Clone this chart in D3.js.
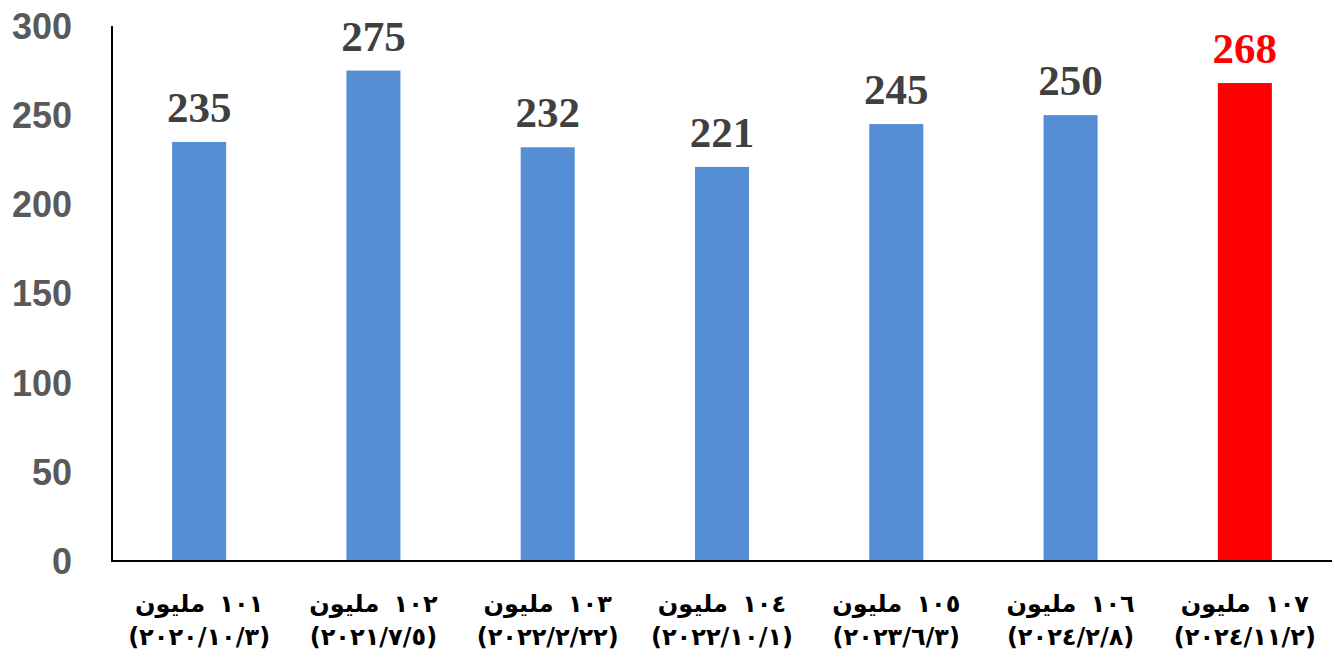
<!DOCTYPE html>
<html>
<head>
<meta charset="utf-8">
<script src="https://cdn.jsdelivr.net/npm/d3@7"></script>
<style>
  body { margin: 0; background: #fff; }
</style>
</head>
<body>
<div id="chart"></div>
<script>
// data
var counts = ["١٠١ مليون", "١٠٢ مليون", "١٠٣ مليون", "١٠٤ مليون", "١٠٥ مليون", "١٠٦ مليون", "١٠٧ مليون"];
var dates = ["(٢٠٢٠/١٠/٣)", "(٢٠٢١/٧/٥)", "(٢٠٢٢/٢/٢٢)", "(٢٠٢٢/١٠/١)", "(٢٠٢٣/٦/٣)", "(٢٠٢٤/٢/٨)", "(٢٠٢٤/١١/٢)"];
var values = [235, 275, 232, 221, 245, 250, 268];
var yTicks = [0, 50, 100, 150, 200, 250, 300];

var width = 1335, height = 657;
var margin = {top: 26, right: 3, bottom: 96, left: 112};

var svg = d3.select("#chart")
  .append("svg")
    .attr("width", width)
    .attr("height", height);

var x = d3.scaleBand()
    .domain(d3.range(values.length))
    .range([margin.left, width - margin.right])
    .paddingInner(0.69)
    .paddingOuter(0.345);

var y = d3.scaleLinear()
    .domain([0, 300])
    .range([height - margin.bottom, margin.top]);

// y tick labels (no tick marks)
svg.append("g")
  .selectAll("text")
  .data(yTicks)
  .enter()
  .append("text")
    .attr("x", 72)
    .attr("y", function(d){ return y(d); })
    .attr("dy", "0.36em")
    .attr("text-anchor", "end")
    .style("font-family", "'Liberation Sans', Arial, sans-serif")
    .style("font-weight", "bold")
    .style("font-size", "36px")
    .style("fill", "#595959")
    .text(function(d){ return d; });

// bars
svg.append("g")
  .selectAll("rect")
  .data(values)
  .enter()
  .append("rect")
    .attr("x", function(d, i){ return x(i); })
    .attr("y", function(d){ return y(d); })
    .attr("width", x.bandwidth())
    .attr("height", function(d){ return y(0) - y(d); })
    .style("fill", function(d, i){ return i == values.length - 1 ? "#ff0000" : "#558ed5"; });

// value labels
svg.append("g")
  .selectAll("text")
  .data(values)
  .enter()
  .append("text")
    .attr("x", function(d, i){ return x(i) + x.bandwidth() / 2; })
    .attr("y", function(d){ return y(d) - 20; })
    .attr("text-anchor", "middle")
    .style("font-family", "'Liberation Serif', 'Times New Roman', serif")
    .style("font-weight", "bold")
    .style("font-size", "43px")
    .style("fill", function(d, i){ return i == values.length - 1 ? "#ff0000" : "#404040"; })
    .text(function(d){ return d; });

// axis lines
svg.append("line")
    .attr("x1", margin.left).attr("x2", margin.left)
    .attr("y1", y(300)).attr("y2", y(0))
    .style("stroke", "#000").style("stroke-width", 2);
svg.append("line")
    .attr("x1", margin.left - 1).attr("x2", width - margin.right)
    .attr("y1", y(0)).attr("y2", y(0))
    .style("stroke", "#000").style("stroke-width", 2);

// category labels, two lines each
var cats = svg.append("g")
  .selectAll("g")
  .data(values)
  .enter()
  .append("g")
    .attr("transform", function(d, i){ return "translate(" + (x(i) + x.bandwidth() / 2) + ",0)"; })
    .style("font-family", "'DejaVu Sans', 'Noto Sans', sans-serif")
    .style("font-weight", "bold")
    .style("font-size", "24px")
    .style("fill", "#000");

cats.append("text")
    .attr("y", 612)
    .attr("text-anchor", "middle")
    .style("word-spacing", "6px")
    .text(function(d, i){ return counts[i]; });

cats.append("text")
    .attr("y", 645)
    .attr("text-anchor", "middle")
    .style("letter-spacing", "1.5px")
    .text(function(d, i){ return dates[i]; });
</script>
</body>
</html>
